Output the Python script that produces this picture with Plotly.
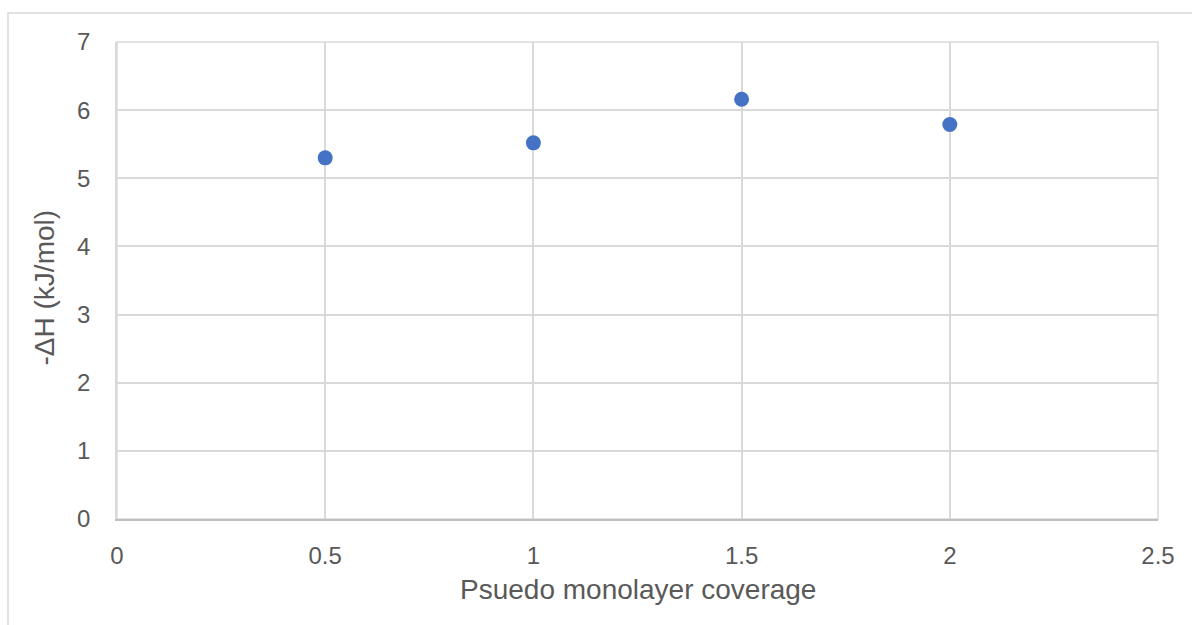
import plotly.graph_objects as go

# Pseudo monolayer coverage vs. heat of adsorption
coverage = [0.5, 1.0, 1.5, 2.0]
neg_delta_h = [5.30, 5.52, 6.16, 5.79]

x_title = "Psuedo monolayer coverage"
y_title = "-ΔH (kJ/mol)"

W, H = 1192, 625
ML, MR, MT, MB = 117, 34, 42, 106
PW, PH = W - ML - MR, H - MT - MB

GRID = "#d9d9d9"
TEXT = "#595959"
FONT = "Liberation Sans, Arial, sans-serif"


def px_x(px):
    """Horizontal pixel position -> paper fraction."""
    return (px - ML) / PW


def px_y(py):
    """Vertical pixel position (from top) -> paper fraction."""
    return (MT + PH - py) / PH


fig = go.Figure(
    go.Scatter(
        x=coverage,
        y=neg_delta_h,
        mode="markers",
        marker=dict(color="#4472C4", size=15, line=dict(width=0)),
        hoverinfo="x+y",
    )
)

fig.update_layout(
    width=W,
    height=H,
    margin=dict(l=ML, r=MR, t=MT, b=MB, autoexpand=False),
    paper_bgcolor="white",
    plot_bgcolor="white",
    showlegend=False,
    font=dict(family=FONT, color=TEXT),
)

fig.update_xaxes(
    range=[0, 2.5],
    dtick=0.5,
    tick0=0,
    showgrid=True,
    gridcolor=GRID,
    gridwidth=1.5,
    zeroline=False,
    showline=True,
    linecolor="#bfbfbf",
    linewidth=1.5,
    ticks="",
    ticklabelstandoff=14,
    tickfont=dict(size=24, color=TEXT, family=FONT),
    automargin=False,
)

fig.update_yaxes(
    range=[0, 7],
    dtick=1,
    tick0=0,
    showgrid=True,
    gridcolor=GRID,
    gridwidth=1.5,
    zeroline=False,
    showline=True,
    linecolor=GRID,
    linewidth=1.5,
    ticks="",
    ticklabelstandoff=20,
    tickfont=dict(size=24, color=TEXT, family=FONT),
    automargin=False,
)

# axis titles
fig.add_annotation(text=x_title, xref="paper", yref="paper",
                   x=px_x(637.5), y=px_y(589), xanchor="center", yanchor="middle",
                   showarrow=False, font=dict(size=28, color=TEXT, family=FONT))
fig.add_annotation(text=y_title, xref="paper", yref="paper",
                   x=px_x(44), y=px_y(287.5), xanchor="center", yanchor="middle",
                   textangle=-90, showarrow=False,
                   font=dict(size=28, color=TEXT, family=FONT))

# frame around the plotting region
fig.add_shape(type="rect", xref="paper", yref="paper",
              x0=0, y0=0, x1=1, y1=1,
              line=dict(color=GRID, width=1.5), layer="below")

# outer chart border
fig.add_shape(type="rect", xref="paper", yref="paper",
              x0=px_x(8), y0=-0.5, x1=1.2, y1=px_y(13),
              line=dict(color=GRID, width=1.5), layer="below")

fig.write_html("out.html")
